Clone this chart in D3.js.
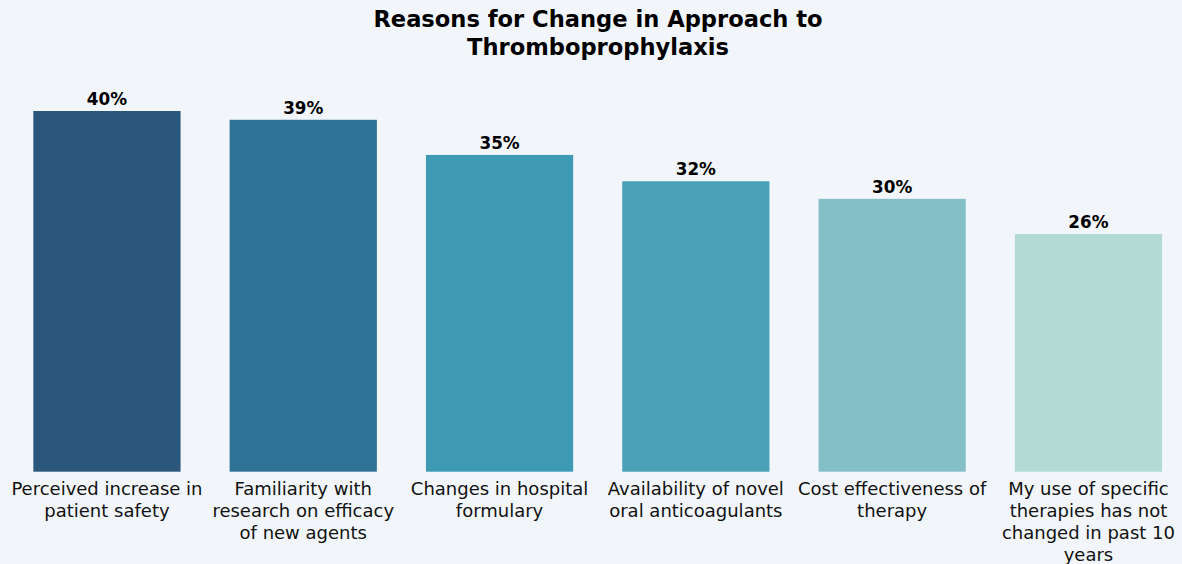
<!DOCTYPE html>
<html>
<head>
<meta charset="utf-8">
<script src="https://cdn.jsdelivr.net/npm/d3@7"></script>
<style>
  body{margin:0;background:#f2f6fa;}
  svg{display:block;font-family:Verdana,"DejaVu Sans",sans-serif;}
</style>
</head>
<body>
<svg id="chart"></svg>
<script>
// data
var categories=[
  ["Perceived increase in","patient safety"],
  ["Familiarity with","research on efficacy","of new agents"],
  ["Changes in hospital","formulary"],
  ["Availability of novel","oral anticoagulants"],
  ["Cost effectiveness of","therapy"],
  ["My use of specific","therapies has not","changed in past 10","years"]
]
var values=[40,39,35,32,30,26]
var colors=["#2b577d","#2e7296","#3e9ab3","#48a1b7","#84bfc7","#b3dbd3"]
var titleLines=["Reasons for Change in Approach to","Thromboprophylaxis"]

var screen={width:1182,height:564}

var svg=d3.select("#chart")
          .attr("width",screen.width)
          .attr("height",screen.height);

svg.append("rect")
   .attr("width",screen.width)
   .attr("height",screen.height)
   .attr("fill","#f2f6fa");

var x=d3.scaleBand()
        .domain(d3.range(values.length))
        .range([8.8,1186.6])
        .paddingInner(0.25)
        .paddingOuter(0.125);

// value axis starts a little below zero in the original
var y=d3.scaleLinear()
        .domain([-1.06,40])
        .range([471.7,111]);

svg.append("g")
   .selectAll("text")
   .data(titleLines)
   .enter()
   .append("text")
   .attr("x",598)
   .attr("y",function(d,i){return 27+i*28;})
   .attr("text-anchor","middle")
   .attr("font-size","22.6px")
   .attr("font-weight","bold")
   .attr("fill","#000")
   .text(function(d){return d;});

var bars=svg.append("g")
            .selectAll("g")
            .data(values)
            .enter()
            .append("g");

bars.append("rect")
    .attr("x",function(d,i){return x(i);})
    .attr("y",function(d){return y(d);})
    .attr("width",x.bandwidth())
    .attr("height",function(d){return y(-1.06)-y(d);})
    .attr("fill",function(d,i){return colors[i];});

bars.append("text")
    .attr("x",function(d,i){return x(i)+x.bandwidth()/2;})
    .attr("y",function(d){return y(d)-6;})
    .attr("text-anchor","middle")
    .attr("font-size","16.8px")
    .attr("font-weight","bold")
    .attr("fill","#000")
    .text(function(d){return d+"%";});

var labels=svg.append("g")
              .selectAll("text")
              .data(categories)
              .enter()
              .append("text")
              .attr("text-anchor","middle")
              .attr("font-size","18px")
              .attr("fill","#111");

labels.selectAll("tspan")
      .data(function(d,i){return d.map(function(t){return {t:t,i:i};});})
      .enter()
      .append("tspan")
      .attr("x",function(d){return x(d.i)+x.bandwidth()/2;})
      .attr("y",function(d,j){return 495+j*22;})
      .text(function(d){return d.t;});
</script>
</body>
</html>
